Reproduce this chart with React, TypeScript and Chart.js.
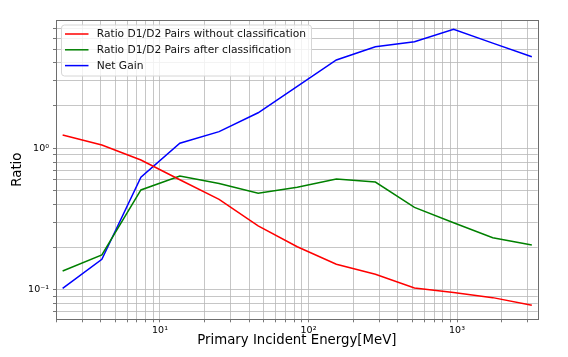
import React, { useEffect, useRef } from 'react';
import { Chart, registerables } from 'chart.js';

Chart.register(...registerables);

// Primary incident energy [MeV]
const energies = [2.21, 4.06, 7.44, 13.6, 25.0, 45.8, 84.0, 154, 282, 517, 948, 1740, 3190];
// Ratio D1/D2 pairs without classification
const ratioWithout = [1.24, 1.055, 0.827, 0.6, 0.436, 0.283, 0.202, 0.152, 0.129, 0.1033, 0.096, 0.0883, 0.078];
// Ratio D1/D2 pairs after classification
const ratioAfter = [0.136, 0.177, 0.508, 0.638, 0.565, 0.481, 0.531, 0.607, 0.578, 0.383, 0.2985, 0.234, 0.208];
// Net gain
const netGain = [0.1028, 0.1647, 0.624, 1.085, 1.31, 1.78, 2.73, 4.2, 5.21, 5.65, 6.92, 5.52, 4.43];

const seriesLabels = [
  'Ratio D1/D2 Pairs without classification',
  'Ratio D1/D2 Pairs after classification',
  'Net Gain',
];
const seriesColors = ['#ff0000', '#008000', '#0000ff'];

const xTickValues = [2, 3, 4, 5, 6, 7, 8, 9, 10, 20, 30, 40, 50, 60, 70, 80, 90, 100, 200, 300, 400, 500, 600, 700, 800, 900, 1000, 2000, 3000];
const yTickValues = [0.07, 0.08, 0.09, 0.1, 0.2, 0.3, 0.4, 0.5, 0.6, 0.7, 0.8, 0.9, 1, 2, 3, 4, 5, 6, 7];
const xTickLabels: Record<string, string> = { '10': '10¹', '100': '10²', '1000': '10³' };
const yTickLabels: Record<string, string> = { '0.1': '10⁻¹', '1': '10⁰' };

const xTitle = 'Primary Incident Energy[MeV]';
const yTitle = 'Ratio';

const FONT = "'DejaVu Sans', sans-serif";

const frameLegendPlugin = {
  id: 'frameLegend',
  afterDraw(chart: any) {
    const { ctx, chartArea } = chart;
    ctx.save();
    // frame
    ctx.strokeStyle = '#6e6e6e';
    ctx.lineWidth = 1;
    ctx.strokeRect(
      Math.round(chartArea.left) + 0.5,
      Math.round(chartArea.top) + 0.5,
      Math.round(chartArea.right - chartArea.left),
      Math.round(chartArea.bottom - chartArea.top)
    );
    // legend
    const bx = 61.5, by = 25, bw = 250, bh = 51, r = 3;
    ctx.beginPath();
    ctx.moveTo(bx + r, by);
    ctx.lineTo(bx + bw - r, by);
    ctx.quadraticCurveTo(bx + bw, by, bx + bw, by + r);
    ctx.lineTo(bx + bw, by + bh - r);
    ctx.quadraticCurveTo(bx + bw, by + bh, bx + bw - r, by + bh);
    ctx.lineTo(bx + r, by + bh);
    ctx.quadraticCurveTo(bx, by + bh, bx, by + bh - r);
    ctx.lineTo(bx, by + r);
    ctx.quadraticCurveTo(bx, by, bx + r, by);
    ctx.closePath();
    ctx.fillStyle = 'rgba(255,255,255,0.8)';
    ctx.fill();
    ctx.strokeStyle = '#d6d6d6';
    ctx.lineWidth = 1;
    ctx.stroke();
    const rows = [34, 49.8, 65.6];
    ctx.font = `10.7px ${FONT}`;
    ctx.textBaseline = 'middle';
    ctx.textAlign = 'left';
    chart.data.datasets.forEach((ds: any, i: number) => {
      const y = rows[i];
      ctx.beginPath();
      ctx.strokeStyle = ds.borderColor;
      ctx.lineWidth = 1.5;
      ctx.moveTo(65, y);
      ctx.lineTo(88.5, y);
      ctx.stroke();
      ctx.fillStyle = '#111';
      ctx.fillText(ds.label, 96.7, y + 0.5);
    });
    ctx.restore();
  },
};

export default function App() {
  const canvasRef = useRef<HTMLCanvasElement | null>(null);

  useEffect(() => {
    if (!canvasRef.current) return;
    const mk = (vals: number[]) => energies.map((x, i) => ({ x, y: vals[i] }));
    const allSeries = [ratioWithout, ratioAfter, netGain];
    const chart = new Chart(canvasRef.current, {
      type: 'line',
      data: {
        datasets: allSeries.map((vals, i) => ({
          label: seriesLabels[i],
          data: mk(vals),
          borderColor: seriesColors[i],
          backgroundColor: seriesColors[i],
          borderWidth: 1.5,
          pointRadius: 0,
          tension: 0,
          fill: false,
        })),
      },
      options: {
        animation: false,
        responsive: false,
        devicePixelRatio: 1,
        events: [],
        layout: { padding: { top: 20, right: 30.3, left: 0, bottom: 0 } },
        plugins: { legend: { display: false }, tooltip: { enabled: false } },
        scales: {
          x: {
            type: 'logarithmic',
            min: 1.994,
            max: 3494,
            afterBuildTicks: (scale: any) => {
              scale.ticks = xTickValues.map((v) => ({ value: v }));
            },
            afterFit: (scale: any) => {
              scale.height = 37.7;
            },
            border: { display: false },
            grid: { color: '#b8b8b8', lineWidth: 0.8, tickLength: 3, tickColor: '#555', drawTicks: true },
            ticks: {
              autoSkip: false,
              maxRotation: 0,
              minRotation: 0,
              padding: 3,
              color: '#000',
              font: { family: FONT, size: 9.5 },
              callback: (v: any) => xTickLabels[String(v)] ?? '',
            },
            title: {
              display: true,
              text: xTitle,
              color: '#000',
              font: { family: FONT, size: 13.3, lineHeight: 1.2 },
              padding: { top: 0, bottom: 8 },
            },
          },
          y: {
            type: 'logarithmic',
            min: 0.0621,
            max: 8.04,
            afterBuildTicks: (scale: any) => {
              scale.ticks = yTickValues.map((v) => ({ value: v }));
            },
            afterFit: (scale: any) => {
              scale.width = 56;
            },
            border: { display: false },
            grid: { color: '#b8b8b8', lineWidth: 0.8, tickLength: 3, tickColor: '#555', drawTicks: true },
            ticks: {
              autoSkip: false,
              padding: 4,
              color: '#000',
              font: { family: FONT, size: 9.5 },
              callback: (v: any) => yTickLabels[String(v)] ?? '',
            },
            title: {
              display: true,
              text: yTitle,
              color: '#000',
              font: { family: FONT, size: 13.3, lineHeight: 1.2 },
              padding: { top: 10, bottom: 0 },
            },
          },
        },
      },
      plugins: [frameLegendPlugin],
    } as any);
    return () => chart.destroy();
  }, []);

  return (
    <div style={{ position: 'fixed', left: 0, top: 0, width: 568, height: 357, background: '#fff' }}>
      <canvas ref={canvasRef} width={568} height={357} style={{ width: 568, height: 357, display: 'block' }} />
    </div>
  );
}
